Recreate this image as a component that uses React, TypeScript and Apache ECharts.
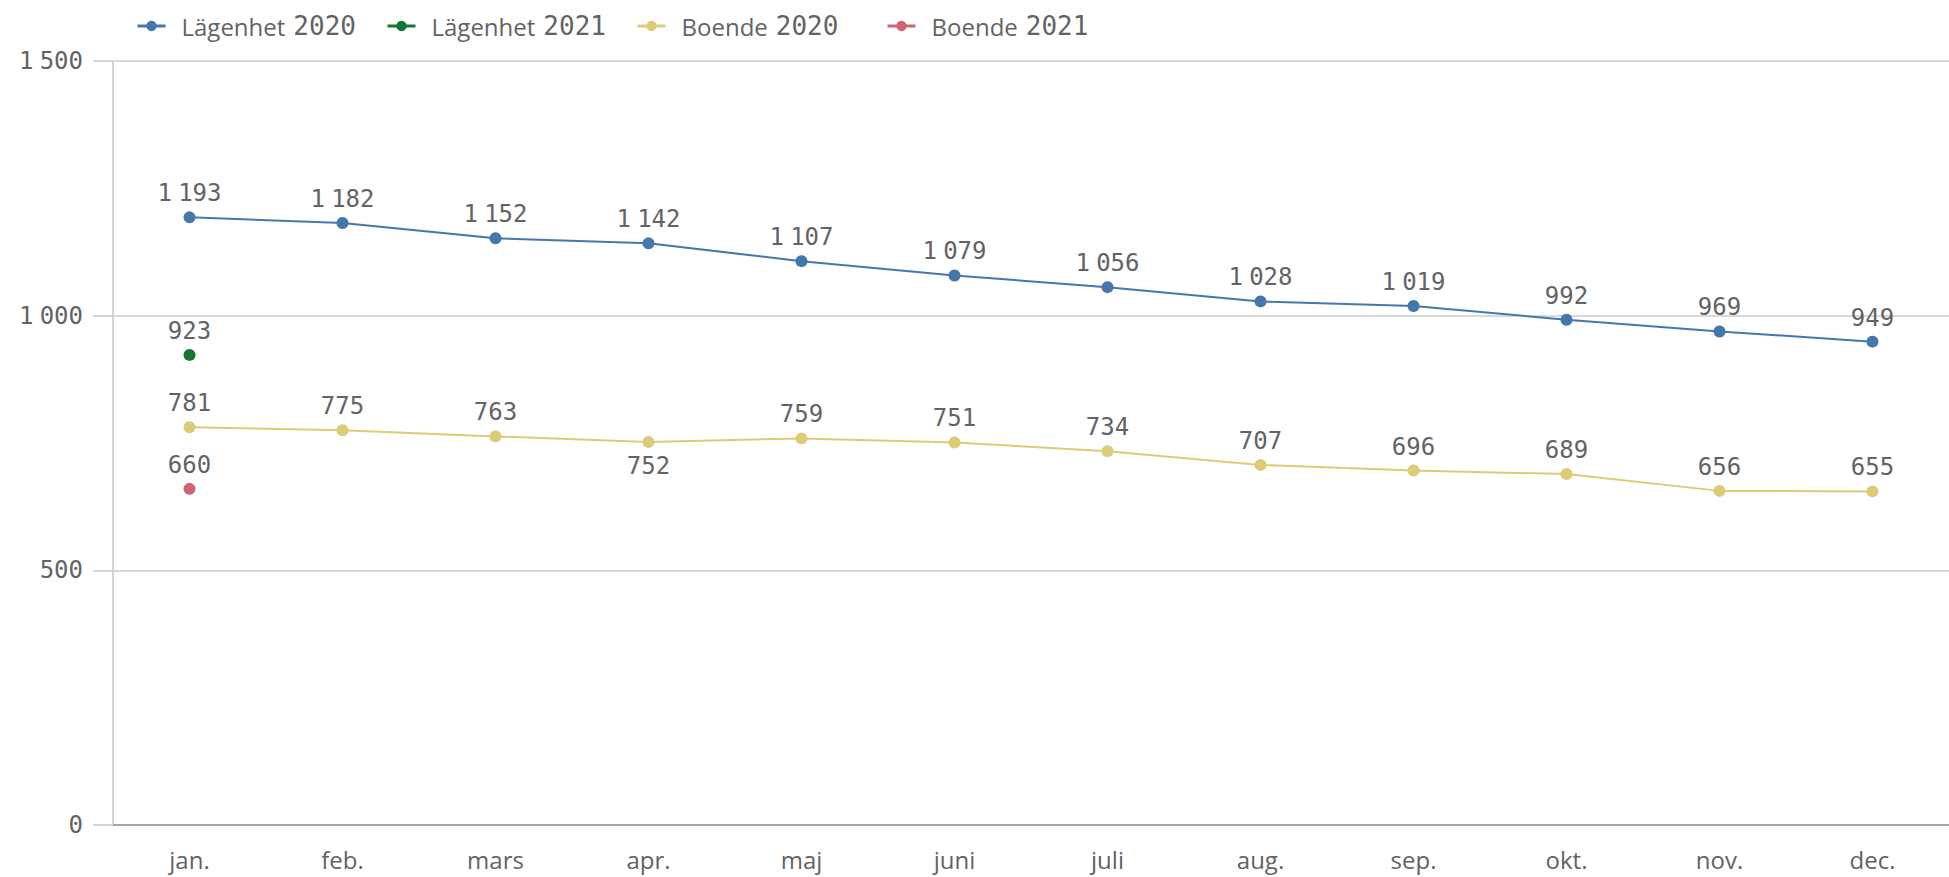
import React, { useEffect, useRef } from "react";
import * as echarts from "echarts";

const months = ["jan.", "feb.", "mars", "apr.", "maj", "juni", "juli", "aug.", "sep.", "okt.", "nov.", "dec."];
const lagenhet2020 = [1193, 1182, 1152, 1142, 1107, 1079, 1056, 1028, 1019, 992, 969, 949];
const lagenhet2021 = [923];
const boende2020 = [781, 775, 763, 752, 759, 751, 734, 707, 696, 689, 656, 655];
const boende2021 = [660];
const seriesNames = ["Lägenhet 2020", "Lägenhet 2021", "Boende 2020", "Boende 2021"];
const colors = ["#4477aa", "#117733", "#ddcc77", "#cc6677"];
const belowLabels: Record<string, number[]> = { "Boende 2020": [3] };

const MONO = "'DejaVu Sans Mono', monospace";
const SANS = "'Open Sans', sans-serif";
const TXT = "#636363";

// thousands separator drawn as a narrow rich-text space
function fmt(v: number): string {
  const s = String(Math.round(v));
  return s.replace(/\B(?=(\d{3})+(?!\d))/g, "{s| }");
}
const richSpace = { s: { fontFamily: SANS, fontSize: 24, color: TXT } };

export default function App() {
  const ref = useRef<HTMLDivElement>(null);
  useEffect(() => {
    if (!ref.current) return;
    const chart = echarts.init(ref.current, undefined, { renderer: "svg" });
    const dataSets = [lagenhet2020, lagenhet2021, boende2020, boende2021];
    const series = seriesNames.map((name, i) => {
      const below = belowLabels[name] || [];
      return {
        name,
        type: "line",
        data: dataSets[i].map((v, j) =>
          below.includes(j) ? { value: v, label: { position: "bottom" } } : v
        ),
        color: colors[i],
        symbol: "circle",
        symbolSize: 12,
        lineStyle: { width: 2, color: colors[i] },
        itemStyle: { color: colors[i] },
        label: {
          show: true,
          position: "top",
          distance: 6,
          fontFamily: MONO,
          fontSize: 24,
          color: TXT,
          formatter: (p: any) => fmt(p.value),
          rich: richSpace,
        },
      };
    });
    chart.setOption({
      animation: false,
      backgroundColor: "#ffffff",
      legend: seriesNames.map((n, i) => ({
        data: [n],
        left: 131 + i * 250,
        top: 8,
        itemWidth: 28,
        itemHeight: 13,
        itemGap: 0,
        lineStyle: { width: 3 },
        formatter: (name: string) => {
          const parts = name.split(" ");
          return `{a|${parts[0]}}{b|${parts[1]}}`;
        },
        textStyle: {
          color: TXT,
          fontSize: 24,
          rich: {
            a: { fontFamily: SANS, fontSize: 24, color: TXT, padding: [0, 8, 0, 11] },
            b: { fontFamily: MONO, fontSize: 26, color: TXT },
          },
        },
      })),
      grid: { left: 113, top: 61, width: 1852, height: 764, containLabel: false },
      xAxis: {
        type: "category",
        data: months,
        boundaryGap: true,
        axisLine: { show: true, lineStyle: { color: "#a6a6a6", width: 2 } },
        axisTick: { show: false },
        axisLabel: { fontFamily: SANS, fontSize: 24, color: TXT, margin: 22 },
        splitLine: { show: false },
      },
      yAxis: {
        type: "value",
        min: 0,
        max: 1500,
        interval: 500,
        axisLine: { show: true, lineStyle: { color: "#d4d4d4", width: 2 } },
        axisTick: { show: true, length: 20, lineStyle: { color: "#d4d4d4", width: 2 } },
        axisLabel: {
          fontFamily: MONO,
          fontSize: 24,
          color: TXT,
          margin: 30,
          formatter: (v: number) => fmt(v),
          rich: richSpace,
        },
        splitLine: { show: true, lineStyle: { color: "#d9d9d9", width: 2 } },
      },
      series,
    });
    return () => chart.dispose();
  }, []);
  return (
    <div
      ref={ref}
      style={{ position: "fixed", left: 0, top: 0, width: 1949, height: 877 }}
    />
  );
}
